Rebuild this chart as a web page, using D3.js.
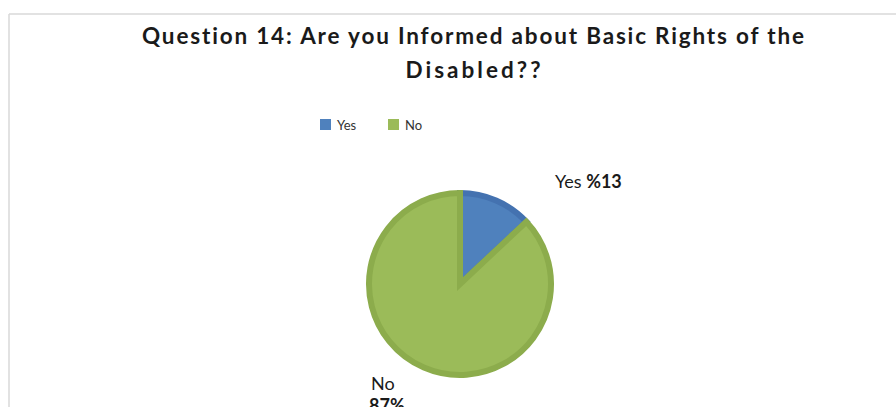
<!DOCTYPE html>
<html>
<head>
    <title>Question 14</title>
    <script src="https://d3js.org/d3.v7.min.js"></script>
    <style>
        body { margin: 0; background: #fff; }
        svg { display: block; font-family: Lato, "Open Sans", sans-serif; font-variant-ligatures: none; }
    </style>
</head>
<body>
<div id="chart"></div>
<script>
    // chart data
    const categories = ["Yes", "No"];
    const values = [13, 87];
    const labelText = ["%13", "87%"];
    const colors = ["#4f81bd", "#9bbb59"];
    const strokes = ["#4472b0", "#8cac4c"];

    const width = 896;
    const height = 407;

    const svg = d3.select("#chart")
        .append("svg")
        .attr("width", width)
        .attr("height", height);

    // chart frame (only top and left edges are visible in the crop)
    svg.append("line")
        .attr("x1", 9).attr("y1", 14).attr("x2", width).attr("y2", 14)
        .attr("stroke", "#d9d9d9").attr("stroke-width", 1.5);
    svg.append("line")
        .attr("x1", 9).attr("y1", 14).attr("x2", 9).attr("y2", height)
        .attr("stroke", "#d9d9d9").attr("stroke-width", 1.5);

    // title
    const title = svg.append("text")
        .attr("text-anchor", "middle")
        .style("font-size", "22.5px")
        .style("font-weight", "bold")
        .attr("fill", "#1a1a1a");
    title.append("tspan").attr("x", 473).attr("y", 44)
        .attr("textLength", 662).attr("lengthAdjust", "spacing")
        .text("Question 14: Are you Informed about Basic Rights of the");
    title.append("tspan").attr("x", 473).attr("y", 78)
        .attr("textLength", 135).attr("lengthAdjust", "spacing")
        .text("Disabled??");

    // legend
    const legendX = [320, 388];
    const legend = svg.append("g");
    categories.forEach((c, i) => {
        legend.append("rect")
            .attr("x", legendX[i]).attr("y", 119)
            .attr("width", 11).attr("height", 11)
            .attr("fill", colors[i]);
        legend.append("text")
            .attr("x", legendX[i] + 17).attr("y", 130)
            .style("font-size", "13px")
            .attr("fill", "#333")
            .text(c);
    });

    // pie
    const cx = 460, cy = 284, r = 91;
    const pie = d3.pie().sort(null).value(d => d)(values);
    const arc = d3.arc().innerRadius(0).outerRadius(r);

    const g = svg.append("g").attr("transform", `translate(${cx},${cy})`);
    g.selectAll("path")
        .data(pie)
        .join("path")
        .attr("d", arc)
        .attr("fill", (d, i) => colors[i])
        .attr("stroke", (d, i) => strokes[i])
        .attr("stroke-width", 6)
        .attr("stroke-linejoin", "miter");

    // data labels
    const yesLabel = svg.append("text")
        .attr("x", 555).attr("y", 188)
        .style("font-size", "18px")
        .attr("fill", "#1a1a1a");
    yesLabel.append("tspan").text(categories[0] + " ");
    yesLabel.append("tspan").style("font-weight", "bold").text(labelText[0]);

    const noLabel = svg.append("text")
        .style("font-size", "18px")
        .attr("fill", "#1a1a1a");
    noLabel.append("tspan").attr("x", 371).attr("y", 390).text(categories[1]);
    noLabel.append("tspan").attr("x", 369).attr("y", 412)
        .style("font-weight", "bold").text(labelText[1]);
</script>
</body>
</html>
